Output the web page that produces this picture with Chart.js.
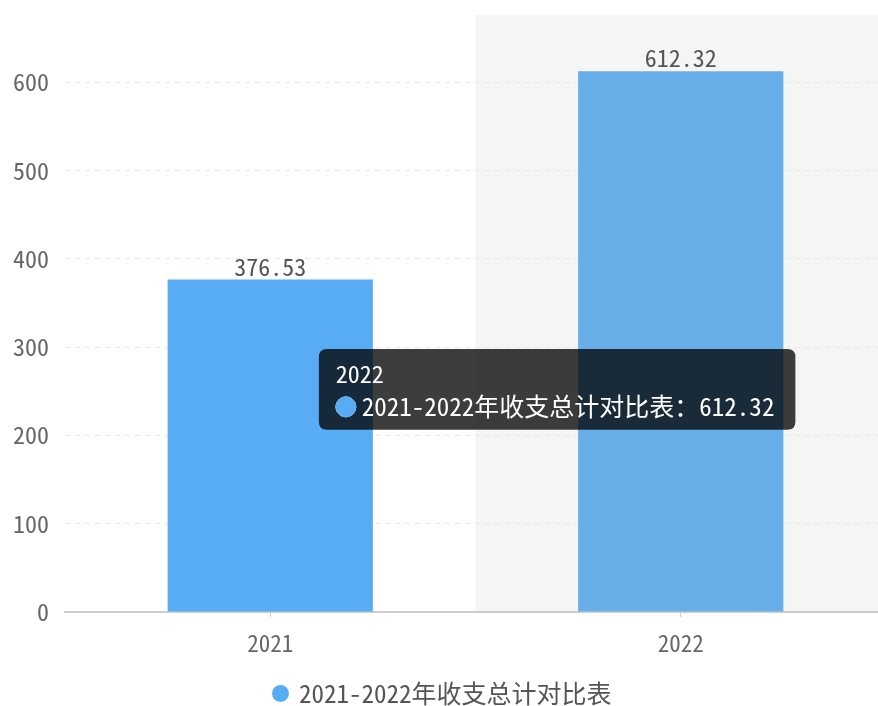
<!DOCTYPE html>
<html>
<head>
<meta charset="utf-8">
<script src="https://cdn.jsdelivr.net/npm/chart.js@4/dist/chart.umd.min.js"></script>
<style>
  html, body { margin: 0; padding: 0; background: #fff; overflow: hidden; }
  /* plot runs a few px past the right edge, like the original */
  #wrap { width: 886px; height: 706px; position: relative; }
</style>
</head>
<body>
<div id="wrap"><canvas id="chart"></canvas></div>
<script>
  // data
  const years = ['2021', '2022'];
  const totals = [376.53, 612.32];
  const seriesName = '2021-2022年收支总计对比表';
  const yTicks = [0, 100, 200, 300, 400, 500, 600];
  const activeIndex = 1;

  const FONT = "'Noto Sans Mono CJK SC', 'Noto Sans CJK SC', 'DejaVu Sans Mono', monospace";

  // grey band behind the hovered category
  const bandPlugin = {
    id: 'band',
    beforeDraw(chart) {
      const { ctx, chartArea, scales } = chart;
      const w = (chartArea.right - chartArea.left) / years.length;
      const cx = scales.x.getPixelForValue(activeIndex);
      ctx.save();
      ctx.fillStyle = '#f5f5f5';
      ctx.fillRect(cx - w / 2, chartArea.top, w, chartArea.bottom - chartArea.top);
      ctx.restore();
    }
  };

  // value labels on top of bars
  const valueLabels = {
    id: 'valueLabels',
    afterDatasetsDraw(chart) {
      const { ctx } = chart;
      const meta = chart.getDatasetMeta(0);
      ctx.save();
      ctx.font = '24px ' + FONT;
      ctx.fillStyle = '#555';
      ctx.textAlign = 'center';
      ctx.textBaseline = 'bottom';
      meta.data.forEach((bar, i) => {
        ctx.fillText(totals[i].toFixed(2), bar.x, bar.y - 1);
      });
      ctx.restore();
    }
  };

  Chart.Tooltip.positioners.fixedSide = function (elements) {
    if (!elements.length) return false;
    const el = elements[0].element;
    const y = this.chart.scales.y.getPixelForValue(252);
    return { x: el.x + el.width / 2 + 12, y: y, xAlign: 'right', yAlign: 'center' };
  };

  const chart = new Chart(document.getElementById('chart'), {
    type: 'bar',
    data: {
      labels: years,
      datasets: [{
        label: seriesName,
        data: totals,
        backgroundColor: '#58acf4',
        hoverBackgroundColor: '#68afe9',
        borderWidth: 0,
        categoryPercentage: 1,
        barPercentage: 0.5,
        pointStyle: 'circle'
      }]
    },
    options: {
      responsive: true,
      maintainAspectRatio: false,
      animation: false,
      events: [],
      layout: { padding: { top: 15, right: 0, left: 0, bottom: -10 } },
      scales: {
        x: {
          grid: { display: true, drawOnChartArea: false, offset: false, tickLength: 5, color: '#ccc' },
          border: { color: '#ccc', width: 2 },
          ticks: { color: '#666', font: { family: FONT, size: 23 }, padding: 12 },
          afterFit(s) { s.height = 69; }
        },
        y: {
          min: 0,
          max: 676,
          afterBuildTicks(s) { s.ticks = yTicks.map(v => ({ value: v })); },
          grid: {
            color: (c) => c.tick && c.tick.value === 0 ? 'rgba(0,0,0,0)' : '#e8e8e8',
            drawTicks: false
          },
          border: { display: false, dash: [5, 5] },
          ticks: { color: '#666', font: { family: FONT, size: 24 }, padding: 16 },
          afterFit(s) { s.width = 65; s.paddingTop = 0; s.paddingBottom = 0; }
        }
      },
      plugins: {
        legend: {
          position: 'bottom',
          labels: {
            usePointStyle: true,
            pointStyle: 'circle',
            boxWidth: 12,
            boxHeight: 12,
            padding: 0,
            color: '#555',
            font: { family: FONT, size: 25 }
          }
        },
        tooltip: {
          enabled: true,
          position: 'fixedSide',
          backgroundColor: 'rgba(0,0,0,0.76)',
          titleColor: '#fff',
          bodyColor: '#fff',
          titleFont: { family: FONT, size: 24, weight: 'normal' },
          bodyFont: { family: FONT, size: 25 },
          padding: { left: 17, right: 21, top: 10, bottom: 8 },
          titleMarginBottom: 4,
          cornerRadius: 8,
          caretSize: 0,
          caretPadding: 0,
          usePointStyle: true,
          boxWidth: 20,
          boxHeight: 20,
          boxPadding: 4,
          callbacks: {
            label: (c) => c.dataset.label + '：' + c.parsed.y.toFixed(2),
            labelColor: () => ({ borderColor: '#58acf4', backgroundColor: '#58acf4' }),
            labelPointStyle: () => ({ pointStyle: 'circle', rotation: 0 })
          }
        }
      }
    },
    plugins: [bandPlugin, valueLabels]
  });

  const active = [{ datasetIndex: 0, index: activeIndex }];
  chart.setActiveElements(active);
  chart.tooltip.setActiveElements(active, { x: 0, y: 0 });
  chart.update();
</script>
</body>
</html>
